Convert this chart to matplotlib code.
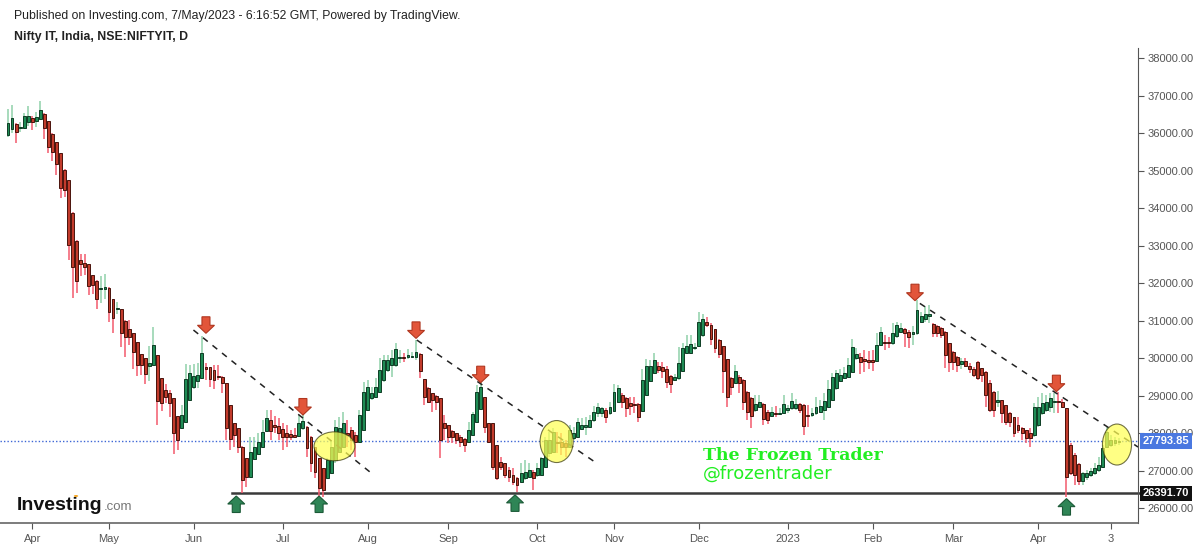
import numpy as np
import matplotlib
matplotlib.use('Agg')
import matplotlib.pyplot as plt
from matplotlib.patches import Ellipse, Polygon
from matplotlib.transforms import ScaledTranslation, blended_transform_factory

plt.rcParams['font.family'] = ['Liberation Sans', 'DejaVu Sans']

# daily candles, 24 Mar 2022 .. 5 May 2023 (index = trading day)
opens = [35947, 36107, 36240, 36124, 36142, 36302, 36400, 36329, 36364, 36498, 36311, 35973,
         35751, 35458, 35013, 34747, 33876, 33129, 32613, 32542, 32498, 32204, 32062, 31831,
         31849, 31875, 31564, 31298, 31307, 30996, 30764, 30667, 30418, 30107, 29991, 29787,
         29804, 30071, 29458, 29147, 29058, 28924, 28453, 28124, 28302, 28880, 29235, 29396,
         29458, 29769, 29751, 29680, 29520, 29502, 29324, 28747, 28258, 28124, 27636, 27324,
         26836, 27298, 27440, 27636, 28053, 28347, 28213, 28187, 28098, 28009, 27973, 27947,
         27920, 28124, 28169, 27902, 27636, 27324, 27058, 26791, 26924, 27280, 27502, 27636,
         28009, 28080, 27947, 27769, 28080, 28613, 28924, 28969, 29102, 29413, 29680, 29813,
         29813, 30009, 30018, 30018, 30027, 30018, 30107, 29431, 29191, 29058, 28987, 28924,
         28276, 28213, 28062, 27991, 27902, 27831, 27769, 27947, 28302, 28631, 28951, 28258,
         28258, 27680, 27236, 27191, 27013, 26880, 26791, 26702, 26791, 26836, 26969, 26880,
         26880, 27102, 27458, 27502, 27769, 27769, 27724, 27636, 27858, 27902, 28098, 28169,
         28169, 28347, 28524, 28542, 28613, 28524, 28596, 28836, 29013, 28924, 28791, 28773,
         28773, 28596, 29013, 29396, 29609, 29787, 29751, 29698, 29520, 29413, 29458, 29662,
         30142, 30142, 30258, 30320, 30613, 30969, 30880, 30764, 30480, 30320, 29964, 29458,
         29342, 29502, 29413, 29102, 28924, 28613, 28702, 28773, 28569, 28453, 28524, 28507,
         28542, 28613, 28658, 28658, 28773, 28747, 28480, 28480, 28524, 28569, 28613, 28702,
         28880, 29191, 29396, 29458, 29502, 29636, 29991, 30018, 29964, 29947, 29947, 29929,
         30347, 30436, 30427, 30391, 30587, 30702, 30764, 30702, 30640, 30658, 30969, 31031,
         31120, 30907, 30853, 30791, 30702, 30391, 30169, 30018, 29850, 29930, 29800, 29700,
         29900, 29724, 29636, 29324, 29102, 28836, 28880, 28747, 28524, 28436, 28213, 28124,
         28080, 27991, 27947, 28213, 28524, 28613, 28702, 28818, 28836, 28836, 28658, 27680,
         27413, 27173, 26729, 26818, 26880, 26924, 27013, 27102, 27636, 27680, 27724, 27769]

highs = [36631, 36747, 36258, 36284, 36524, 36720, 36453, 36569, 36862, 36524, 36320, 35990,
         35760, 35470, 35030, 34760, 33890, 33140, 32764, 32773, 32510, 32215, 32070, 32187,
         32240, 31885, 31575, 31502, 31315, 31005, 31013, 30675, 30425, 30115, 30000, 30320,
         30836, 30080, 29465, 29307, 29147, 28930, 28460, 28747, 29840, 29813, 29840, 29876,
         30587, 29858, 29769, 29813, 29813, 29520, 29336, 28760, 28270, 28140, 27650, 27340,
         27902, 27902, 27991, 28347, 28613, 28613, 28453, 28391, 28258, 28213, 28080, 28124,
         28480, 28524, 28180, 27910, 27640, 27330, 27065, 27324, 27813, 28347, 28436, 28569,
         28347, 28169, 28036, 28613, 29369, 29413, 29236, 29458, 29991, 30080, 30080, 30213,
         30391, 30213, 30124, 30231, 30169, 30480, 30124, 29440, 29218, 29070, 29013, 28930,
         28480, 28220, 28080, 27995, 27947, 27858, 28302, 28569, 29280, 29369, 28969, 28276,
         28270, 27690, 27369, 27200, 27102, 27058, 26836, 27191, 27280, 27191, 27013, 27191,
         27369, 27902, 28036, 28124, 28036, 27991, 27813, 28213, 28169, 28391, 28391, 28436,
         28480, 28720, 28809, 28702, 28658, 28836, 29307, 29280, 29058, 28969, 28969, 28951,
         28791, 29720, 29964, 29947, 30142, 29902, 29902, 29787, 29547, 29573, 30302, 30391,
         30613, 30613, 30409, 31236, 31173, 31084, 30924, 30770, 30498, 30330, 29970, 29502,
         29813, 29547, 29431, 29129, 28969, 29013, 29013, 28791, 28613, 28702, 28720, 28658,
         29013, 28747, 29058, 28898, 28791, 28773, 28747, 28658, 28951, 28880, 29058, 29413,
         29591, 29680, 29720, 29769, 29991, 30498, 30258, 30124, 30213, 30196, 30213, 30658,
         30836, 30613, 30569, 30942, 30969, 30924, 30791, 30747, 30853, 31547, 31236, 31387,
         31413, 30924, 30880, 30818, 30729, 30409, 30196, 30053, 29990, 30000, 29880, 29760,
         29920, 29740, 29650, 29413, 29110, 29129, 28890, 28755, 28569, 28440, 28436, 28169,
         28085, 28124, 28791, 28969, 29058, 29013, 29058, 29058, 29102, 28898, 28670, 27724,
         27458, 27191, 26969, 27013, 27058, 27191, 27369, 27680, 28169, 27947, 27902, 27858]

lows = [35902, 35991, 35724, 36036, 36124, 36187, 36080, 36169, 36347, 35831, 35458, 35262,
        34880, 34258, 34284, 32613, 31591, 31742, 32196, 32213, 31680, 31707, 31298, 31475,
        31564, 30951, 30675, 31173, 30302, 30036, 30347, 29698, 29520, 29547, 29307, 29396,
        29790, 28213, 28596, 28791, 28436, 27440, 27547, 28110, 28290, 28870, 29164, 29191,
        29440, 29413, 29218, 29164, 29413, 29076, 27813, 27547, 27636, 27458, 26392, 26569,
        26820, 27280, 27413, 27620, 28036, 27813, 27991, 27813, 27547, 27636, 27813, 27890,
        27900, 28080, 27369, 26969, 26791, 26250, 26300, 26780, 26910, 27191, 27458, 27591,
        27636, 27547, 27369, 27760, 28070, 28600, 28880, 28924, 29090, 29369, 29636, 29502,
        29769, 29858, 29902, 29964, 29991, 29947, 29458, 28747, 28791, 28569, 28613, 27324,
        27813, 27724, 27724, 27707, 27636, 27502, 27760, 27940, 28258, 28613, 27991, 27724,
        27013, 26747, 27013, 26791, 26702, 26613, 26420, 26690, 26747, 26791, 26480, 26836,
        26853, 27058, 27369, 27458, 27458, 27413, 27369, 27591, 27813, 27895, 28080, 27947,
        28124, 28302, 28436, 28436, 28275, 28480, 28569, 28809, 28658, 28436, 28480, 28524,
        28302, 28569, 29000, 29369, 29573, 29591, 29458, 29191, 29058, 29396, 29413, 29636,
        30124, 30107, 30213, 30302, 30569, 30835, 30347, 30124, 29991, 29058, 28702, 29013,
        29324, 29058, 28613, 28347, 28124, 28569, 28658, 28213, 28240, 28436, 28436, 28480,
        28524, 28524, 28613, 28613, 28524, 27947, 28169, 28436, 28480, 28542, 28347, 28684,
        28862, 29147, 29369, 29431, 29484, 29609, 29947, 29573, 29636, 29698, 29662, 29902,
        30320, 30213, 30258, 30347, 30524, 30658, 30302, 30258, 30347, 30613, 30924, 30969,
        30924, 30569, 30569, 30524, 29725, 29636, 29680, 29636, 29700, 29750, 29600, 29500,
        29413, 29369, 28702, 28569, 28436, 28702, 28258, 28213, 28169, 27902, 27991, 27813,
        27724, 27636, 27902, 28169, 28480, 28569, 28569, 28524, 28524, 28658, 26300, 26880,
        26613, 26613, 26613, 26747, 26836, 26880, 26969, 27058, 27591, 27636, 27653, 27680]

closes = [36258, 36391, 36036, 36151, 36462, 36462, 36284, 36418, 36613, 36124, 35618, 35502,
          35173, 34524, 34480, 33013, 32418, 32062, 32498, 32418, 31920, 31947, 31573, 31875,
          31902, 31235, 31058, 31324, 30658, 30551, 30551, 30169, 29804, 29804, 29564, 29858,
          30347, 28862, 28791, 28969, 28791, 27991, 27813, 28480, 29440, 29609, 29520, 29547,
          30124, 29698, 29440, 29413, 29484, 29324, 28124, 27831, 27947, 27636, 26747, 26836,
          27502, 27636, 27769, 28036, 28391, 28062, 28169, 28009, 27902, 27902, 27884, 27902,
          28258, 28329, 27591, 27191, 26969, 26524, 26480, 27280, 27636, 28169, 28124, 28258,
          27947, 27813, 27769, 28480, 29102, 29236, 29058, 29236, 29680, 29947, 29947, 29991,
          30231, 30027, 30000, 30080, 30044, 30169, 29662, 28969, 28835, 28880, 28835, 27813,
          28124, 27902, 27902, 27813, 27769, 27680, 28080, 28498, 29102, 29218, 28169, 27769,
          27102, 26791, 27102, 26880, 26836, 26702, 26613, 26924, 26969, 27013, 26791, 27058,
          27324, 27813, 27813, 28036, 27724, 27636, 27636, 28080, 27991, 28302, 28213, 28213,
          28347, 28569, 28702, 28658, 28436, 28702, 29102, 29191, 28836, 28658, 28720, 28747,
          28436, 29413, 29787, 29787, 29947, 29680, 29662, 29369, 29307, 29502, 29858, 30258,
          30320, 30373, 30302, 30969, 31031, 30880, 30498, 30258, 30107, 29662, 28969, 29236,
          29662, 29342, 28836, 28569, 28453, 28773, 28836, 28364, 28347, 28551, 28498, 28542,
          28764, 28658, 28862, 28773, 28613, 28187, 28453, 28524, 28684, 28729, 28862, 29164,
          29502, 29609, 29547, 29609, 29813, 30302, 30107, 29902, 29929, 29902, 29902, 30347,
          30702, 30409, 30409, 30658, 30880, 30809, 30658, 30551, 30702, 31280, 31120, 31173,
          31173, 30658, 30658, 30613, 30080, 29902, 29902, 29813, 29930, 29800, 29700, 29560,
          29458, 29547, 29013, 28613, 28613, 28880, 28524, 28302, 28302, 27991, 28080, 27991,
          27858, 27858, 28702, 28702, 28791, 28836, 28924, 28836, 28827, 28702, 26836, 26924,
          26880, 26729, 26924, 26924, 26996, 27058, 27147, 27591, 28036, 27813, 27813, 27793.85]

month_idx = [6, 25, 46, 68, 89, 109, 131, 150, 171, 193, 214, 234, 255, 273]
month_lbl = ['Apr', 'May', 'Jun', 'Jul', 'Aug', 'Sep', 'Oct', 'Nov', 'Dec', '2023',
             'Feb', 'Mar', 'Apr', '3']
price_ticks = list(range(26000, 38001, 1000))

last_price = 27793.85
support = 26391.70

# annotations (drawn by hand on the original)
trend_lines = [((45.9, 30747), (90.0, 26925)),
               ((101.2, 30480), (146.0, 27173)),
               ((225.7, 31458), (279.7, 27627))]
down_arrows = [(49.0, 30660), (73.0, 28480), (101.0, 30524), (117.0, 29342),
               (224.5, 31529), (259.5, 29102)]
up_arrows = [(56.5, 26320), (77.0, 26320), (125.5, 26350), (262.0, 26250)]
circles = [(80.8, 27645, 10.1, 773), (135.8, 27773, 8.2, 1120), (274.5, 27693, 7.2, 1093)]

o = np.array(opens, float)
h = np.array(highs, float)
l = np.array(lows, float)
c = np.array(closes, float)
x = np.arange(len(c))
up = c >= o

W, H = 1200, 548
fig = plt.figure(figsize=(W / 100, H / 100), dpi=100)
ax = fig.add_axes([0, (H - 523) / H, 1138 / W, (523 - 48) / H])

ax.axhline(last_price, color='#3d66d6', lw=1, ls=(0, (1, 1.5)), zorder=1)
ax.plot([55.4, 282], [support, support], color='#3a3a3a', lw=1.8, zorder=2, clip_on=False)

wick_col = np.where(up, '#8fd1aa', '#f25a6c')
body_col = np.where(up, '#1f8c55', '#c23b2c')
edge_col = np.where(up, '#0e3d24', '#4a130c')
ax.vlines(x, l, h, colors=wick_col, lw=1.1, zorder=3)
ax.bar(x, np.maximum(np.abs(c - o), 25), bottom=np.minimum(o, c), width=0.72,
       color=body_col, edgecolor=edge_col, linewidth=0.7, zorder=4)

for (x0, y0), (x1, y1) in trend_lines:
    ax.plot([x0, x1], [y0, y1], color='#222222', lw=1.1, ls=(0, (4, 4)), zorder=5)

for cx, cy, w, hh in circles:
    ax.add_patch(Ellipse((cx, cy), w, hh, fc='#ffff55', ec='#3a3a10', lw=0.8,
                         alpha=0.72, zorder=6))

def arrow(xi, yp, fc, ec, pointing_up):
    s = -1 if pointing_up else 1
    pts = [(0, 0), (8.5, 8), (4, 8), (4, 16.5), (-4, 16.5), (-4, 8), (-8.5, 8)]
    pts = [(px / 100, s * py / 100) for px, py in pts]
    tr = fig.dpi_scale_trans + ScaledTranslation(xi, yp, ax.transData)
    ax.add_patch(Polygon(pts, closed=True, transform=tr, fc=fc, ec=ec, lw=0.8,
                         zorder=7, clip_on=False))

for xi, yp in down_arrows:
    arrow(xi, yp, '#e2553a', '#b0361f', False)
for xi, yp in up_arrows:
    arrow(xi, yp, '#2f8556', '#1b5a37', True)

ax.set_xlim(-1.98, 279.7)
ax.set_ylim(25600, 38270)
ax.yaxis.tick_right()
ax.set_yticks(price_ticks)
ax.set_yticklabels(['%.2f' % v for v in price_ticks])
ax.set_xticks(month_idx)
ax.set_xticklabels(month_lbl)
ax.tick_params(axis='y', colors='#555555', labelsize=8, length=4, width=0.8, pad=3)
ax.tick_params(axis='x', colors='#555555', labelsize=8, length=4, width=0.8, pad=4)
for s in ['top', 'left']:
    ax.spines[s].set_visible(False)
ax.spines['right'].set_color('#555555')
ax.spines['bottom'].set_color('#666666')
ax.spines['bottom'].set_linewidth(1.2)

tr = blended_transform_factory(ax.transAxes, ax.transData)
ax.text(1.004, last_price, '%.2f' % last_price, transform=tr, fontsize=8, color='white',
        fontweight='bold', va='center', ha='left', zorder=10,
        bbox=dict(boxstyle='square,pad=0.25', fc='#4a78e0', ec='none'))
ax.text(1.004, support, '%.2f' % support, transform=tr, fontsize=8, color='white',
        fontweight='bold', va='center', ha='left', zorder=10,
        bbox=dict(boxstyle='square,pad=0.25', fc='#111111', ec='none'))

def fx(px):
    return px / W

def fy(py):
    return 1 - py / H

fig.text(fx(14), fy(16), 'Published on Investing.com, 7/May/2023 - 6:16:52 GMT, Powered by TradingView.',
         fontsize=8.8, color='#222222', va='center')
fig.text(fx(14), fy(37), 'Nifty IT, India, NSE:NIFTYIT, D', fontsize=8.8, fontweight='bold',
         color='#222222', va='center')

# Investing.com logo
logo = fig.text(fx(17), fy(505), 'Investing', fontsize=14, fontweight='bold', color='#111111',
                va='center')
fig.canvas.draw()
bb = logo.get_window_extent()
fig.text(fx(bb.x1 + 1), fy(507), '.com', fontsize=9.5, color='#777777', va='center')
fig.patches.append(matplotlib.patches.Circle((fx(76), fy(496)), 2.2 / W, transform=fig.transFigure,
                                             fc='#f5a623', ec='none', zorder=10))

fig.text(fx(703), fy(455), 'The Frozen Trader', fontsize=12.5, fontweight='bold',
         family='DejaVu Serif', color='#22ee22', va='center')
fig.text(fx(703), fy(474), '@frozentrader', fontsize=13, family='DejaVu Sans',
         color='#22ee22', va='center')

fig.savefig('out.png', dpi=100)
